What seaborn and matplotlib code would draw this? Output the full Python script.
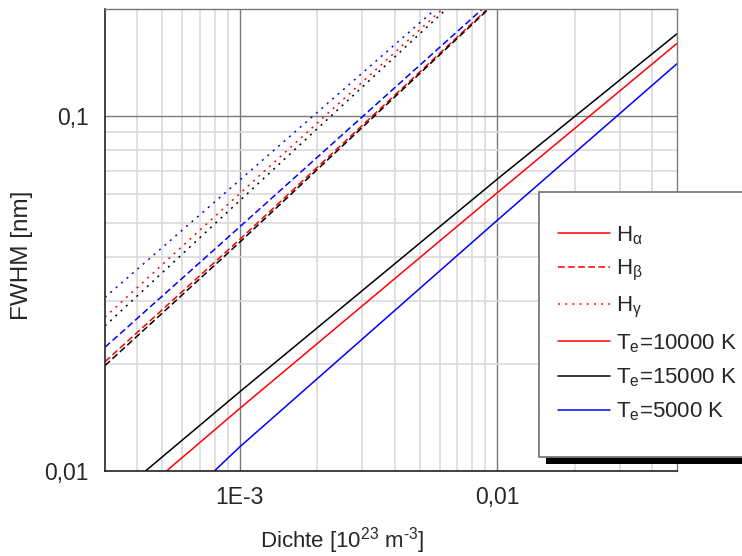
import numpy as np
import pandas as pd
import seaborn as sns
import matplotlib.pyplot as plt
from matplotlib.lines import Line2D
from matplotlib.patches import Rectangle
from matplotlib.ticker import FixedLocator, FixedFormatter, NullFormatter

# readings: density [1e23 m^-3] vs FWHM [nm], one curve per line / temperature
temps = ["10000", "15000", "5000"]
colors = {"10000": "#ff0000", "15000": "#000000", "5000": "#0000ff"}

# H alpha (solid)
ha_x = {"10000": [5.2e-4, 1e-3, 1e-2, 5e-2],
        "15000": [4.31e-4, 1e-3, 1e-2, 5e-2],
        "5000": [7.98e-4, 1e-3, 1e-2, 5e-2]}
ha_y = {"10000": [0.01, 0.01498, 0.0606, 0.1597],
        "15000": [0.01, 0.01669, 0.0662, 0.170],
        "5000": [0.01, 0.01168, 0.0507, 0.140]}

# H beta (dashed)
hb_x = {"10000": [3e-4, 1e-3, 9.2e-3],
        "15000": [3e-4, 1e-3, 9.3e-3],
        "5000": [3e-4, 1e-3, 8.8e-3]}
hb_y = {"10000": [0.0203, 0.0448, 0.2],
        "15000": [0.0198, 0.0440, 0.2],
        "5000": [0.0223, 0.0486, 0.2]}

# H gamma (dotted)
hg_x = {"10000": [3e-4, 1e-3, 6.16e-3],
        "15000": [3e-4, 1e-3, 6.38e-3],
        "5000": [3e-4, 1e-3, 5.79e-3]}
hg_y = {"10000": [0.0271, 0.0603, 0.2],
        "15000": [0.0256, 0.0576, 0.2],
        "5000": [0.0308, 0.0658, 0.2]}

rows = []
for name, xs, ys in [("Ha", ha_x, ha_y), ("Hb", hb_x, hb_y), ("Hg", hg_x, hg_y)]:
    for t in temps:
        for x, y in zip(xs[t], ys[t]):
            rows.append({"dichte": x, "fwhm": y, "linie": name, "temp": t})
df = pd.DataFrame(rows)

sns.set_theme(style="white")
plt.rcParams["font.family"] = ["Liberation Sans", "DejaVu Sans"]
plt.rcParams["mathtext.fontset"] = "custom"
plt.rcParams["mathtext.rm"] = "Liberation Sans"
plt.rcParams["mathtext.it"] = "Liberation Sans"

fig = plt.figure(figsize=(7.42, 5.56), dpi=100)
ax = fig.add_axes([0.1415, 0.1529, 0.9124 - 0.1415, 0.9844 - 0.1529])

dash_map = {"Ha": "", "Hb": (4.4, 2.2), "Hg": (1.3, 3.4)}
sns.lineplot(data=df, x="dichte", y="fwhm", hue="temp", style="linie",
             palette=colors, dashes=dash_map, estimator=None, sort=False,
             linewidth=1.1, legend=False, ax=ax)

ax.set_xscale("log")
ax.set_yscale("log")
ax.set_xlim(3e-4, 5e-2)
ax.set_ylim(0.01, 0.2)

ax.xaxis.set_major_locator(FixedLocator([1e-3, 1e-2]))
ax.xaxis.set_major_formatter(FixedFormatter(["1E-3", "0,01"]))
ax.xaxis.set_minor_locator(FixedLocator([4e-4, 5e-4, 6e-4, 7e-4, 8e-4, 9e-4,
                                         2e-3, 3e-3, 4e-3, 5e-3, 6e-3, 7e-3, 8e-3, 9e-3,
                                         2e-2, 3e-2, 4e-2]))
ax.xaxis.set_minor_formatter(NullFormatter())
ax.yaxis.set_major_locator(FixedLocator([0.01, 0.1]))
ax.yaxis.set_major_formatter(FixedFormatter(["0,01", "0,1"]))
ax.yaxis.set_minor_locator(FixedLocator([0.02, 0.03, 0.04, 0.05, 0.06, 0.07, 0.08, 0.09]))
ax.yaxis.set_minor_formatter(NullFormatter())

ax.set_axisbelow(True)
ax.grid(which="major", color="#7a7a7a", linewidth=1.0)
ax.grid(which="minor", color="#dadada", linewidth=1.2)

ax.tick_params(which="major", direction="inout", length=13, width=1.2, color="#222222",
               labelsize=16.5, pad=4)
ax.tick_params(which="minor", direction="inout", length=7, width=1.2, color="#222222")
ax.tick_params(axis="y", which="major", pad=5)
for s in ["left", "bottom"]:
    ax.spines[s].set_color("#222222")
    ax.spines[s].set_linewidth(1.2)
for s in ["top", "right"]:
    ax.spines[s].set_color("#7a7a7a")
    ax.spines[s].set_linewidth(1.0)

ax.set_xlabel("Dichte [10$^{\\mathregular{23}}$ m$^{\\mathregular{‐3}}$]", fontsize=16)
ax.set_ylabel("FWHM [nm]", fontsize=17.5)
ax.xaxis.set_label_coords(0.414, -0.118)
ax.yaxis.set_label_coords(-0.126, 0.467)

# legend box with black shadow, running off the right edge
fig.add_artist(Rectangle((546 / 742, 1 - 464 / 556), 0.4, (464 - 199) / 556,
                         transform=fig.transFigure, facecolor="black", edgecolor="none", zorder=3))
fig.add_artist(Rectangle((539 / 742, 1 - 457 / 556), 0.4, (457 - 192) / 556,
                         transform=fig.transFigure, facecolor="white", edgecolor="#7a7a7a",
                         linewidth=1.3, zorder=4))

handles = [
    Line2D([], [], color="#ff0000", lw=1.1),
    Line2D([], [], color="#ff0000", lw=1.1, dashes=(4.4, 2.2)),
    Line2D([], [], color="#ff0000", lw=1.1, dashes=(1.3, 3.4)),
    Line2D([], [], color="#ff0000", lw=1.1),
    Line2D([], [], color="#000000", lw=1.1),
    Line2D([], [], color="#0000ff", lw=1.1),
]
labels = ["H$_{\\mathregular{α}}$", "H$_{\\mathregular{β}}$", "H$_{\\mathregular{γ}}$",
          "T$_{\\mathregular{e}}$=10000 K", "T$_{\\mathregular{e}}$=15000 K",
          "T$_{\\mathregular{e}}$=5000 K"]
leg = fig.legend(handles, labels, loc="upper left", bbox_to_anchor=(558 / 742, 1 - 224 / 556),
                 frameon=False, fontsize=16, handlelength=2.35, handletextpad=0.27,
                 labelspacing=0.53, borderaxespad=0, borderpad=0)
leg.set_zorder(5)

fig.savefig("out.png", dpi=100)
plt.close(fig)
